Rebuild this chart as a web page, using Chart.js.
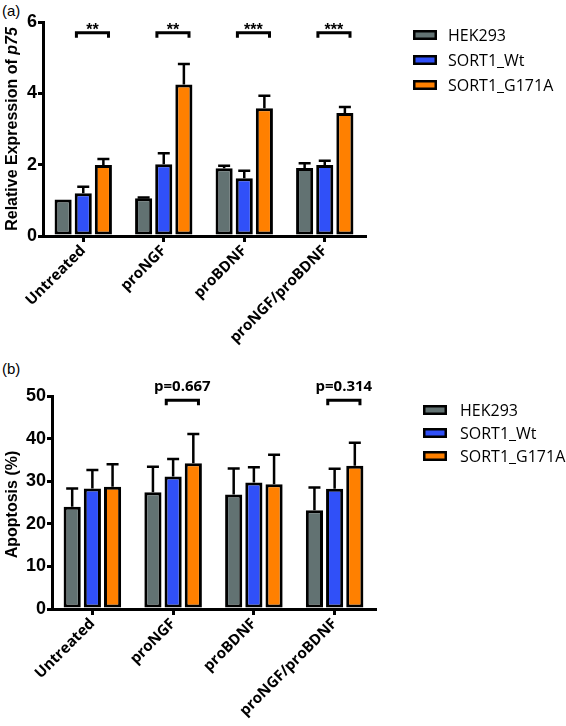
<!DOCTYPE html>
<html>
<head>
<meta charset="utf-8">
<script src="https://cdn.jsdelivr.net/npm/chart.js@4"></script>
<style>
  body { margin: 0; background: #fff; width: 566px; height: 726px; position: relative; overflow: hidden; }
  .panel { position: absolute; left: 0; }
  .tag { position: absolute; left: 2px; font: 15px "Liberation Sans", Arial, sans-serif; color: #000; }
</style>
</head>
<body>
<div class="tag" style="top:2px">(a)</div>
<div class="tag" style="top:360px">(b)</div>
<canvas id="chartA" class="panel" style="top:0" width="566" height="365"></canvas>
<canvas id="chartB" class="panel" style="top:365px" width="566" height="361"></canvas>
<script>
// ---- data ----
const categories = ['Untreated', 'proNGF', 'proBDNF', 'proNGF/proBDNF'];
const seriesNames = ['HEK293', 'SORT1_Wt', 'SORT1_G171A'];
const seriesColors = ['#627272', '#3050f8', '#ff8000'];

// (a) relative expression of p75
const p75Hek = [1.02, 1.06, 1.90, 1.91];
const p75HekErr = [0, 0.02, 0.07, 0.13];
const p75Wt = [1.20, 2.01, 1.62, 1.99];
const p75WtErr = [0.18, 0.31, 0.21, 0.12];
const p75Mut = [1.99, 4.25, 3.58, 3.45];
const p75MutErr = [0.17, 0.57, 0.35, 0.17];
const p75Sig = ['**', '**', '***', '***'];
const p75SigLevel = [5.7, 5.7, 5.7, 5.7];
const p75Ticks = [0, 2, 4, 6];

// (b) apoptosis (%)
const apopHek = [24.0, 27.4, 26.9, 23.2];
const apopHekErr = [4.3, 6.0, 6.1, 5.3];
const apopWt = [28.3, 31.1, 29.7, 28.2];
const apopWtErr = [4.3, 4.1, 3.6, 4.7];
const apopMut = [28.7, 34.2, 29.3, 33.6];
const apopMutErr = [5.3, 6.9, 6.9, 5.4];
const apopSig = ['', 'p=0.667', '', 'p=0.314'];
const apopSigLevel = [49, 49, 49, 49];
const apopTicks = [0, 10, 20, 30, 40, 50];

// ---- plugins ----
// error bars, upward only
const errorBars = {
    id: 'errorBars',
    afterDatasetsDraw(chart) {
        const ctx = chart.ctx;
        const y = chart.scales.y;
        ctx.save();
        ctx.strokeStyle = '#000';
        ctx.lineWidth = 2.5;
        chart.data.datasets.forEach((ds, i) => {
            chart.getDatasetMeta(i).data.forEach((bar, j) => {
                const err = ds.errors[j];
                if (!err) return;
                const top = y.getPixelForValue(ds.data[j] + err);
                ctx.beginPath();
                ctx.moveTo(bar.x, bar.y);
                ctx.lineTo(bar.x, top);
                ctx.moveTo(bar.x - 6, top);
                ctx.lineTo(bar.x + 6, top);
                ctx.stroke();
            });
        });
        ctx.restore();
    }
};

// significance brackets between SORT1_Wt and SORT1_G171A
const sigBrackets = {
    id: 'sigBrackets',
    afterDatasetsDraw(chart, args, opts) {
        const ctx = chart.ctx;
        const wt = chart.getDatasetMeta(1).data;
        const mut = chart.getDatasetMeta(2).data;
        ctx.save();
        ctx.strokeStyle = '#000';
        ctx.fillStyle = '#000';
        ctx.lineWidth = 3;
        ctx.font = opts.font;
        ctx.textAlign = 'center';
        ctx.textBaseline = 'alphabetic';
        opts.labels.forEach((txt, i) => {
            if (!txt) return;
            const w = wt[i].width;
            const left = wt[i].x - 0.4 * w;
            const right = mut[i].x + 0.3 * w;
            const yy = chart.scales.y.getPixelForValue(opts.levels[i]);
            ctx.beginPath();
            ctx.moveTo(left, yy + 5);
            ctx.lineTo(left, yy);
            ctx.lineTo(right, yy);
            ctx.lineTo(right, yy + 5);
            ctx.stroke();
            ctx.fillText(txt, (left + right) / 2, yy + opts.textOffset);
        });
        ctx.restore();
    }
};

// legend on the right
const sideLegend = {
    id: 'sideLegend',
    afterDraw(chart, args, opts) {
        const ctx = chart.ctx;
        const area = chart.chartArea;
        ctx.save();
        ctx.font = '16px "Open Sans", sans-serif';
        ctx.textBaseline = 'middle';
        chart.data.datasets.forEach((ds, i) => {
            const bx = area.right + opts.dx;
            const cy = area.top + opts.first + i * opts.spacing;
            ctx.fillStyle = ds.backgroundColor;
            ctx.fillRect(bx, cy - 5, 24, 10);
            ctx.strokeStyle = '#000';
            ctx.lineWidth = 2.5;
            ctx.strokeRect(bx + 1.25, cy - 3.75, 21.5, 7.5);
            ctx.fillStyle = '#000';
            ctx.fillText(ds.label, bx + opts.textGap, cy + 1);
        });
        ctx.restore();
    }
};

// y axis title, parts may be italic
const yTitle = {
    id: 'yTitle',
    afterDraw(chart, args, opts) {
        const ctx = chart.ctx;
        const area = chart.chartArea;
        ctx.save();
        ctx.translate(opts.x, (area.top + area.bottom) / 2 + (opts.shift || 0));
        ctx.rotate(-Math.PI / 2);
        ctx.fillStyle = '#000';
        ctx.textBaseline = 'middle';
        const fontOf = p => (p.italic ? 'italic ' : '') + 'bold 16px "Liberation Sans", Arial, sans-serif';
        let total = 0;
        opts.parts.forEach(p => { ctx.font = fontOf(p); total += ctx.measureText(p.text).width; });
        let x = -total / 2;
        opts.parts.forEach(p => {
            ctx.font = fontOf(p);
            ctx.fillText(p.text, x, 0);
            x += ctx.measureText(p.text).width;
        });
        ctx.restore();
    }
};

function makeChart(id, cfg) {
    return new Chart(document.getElementById(id), {
        type: 'bar',
        data: {
            labels: categories,
            datasets: seriesNames.map((name, i) => ({
                label: name,
                data: cfg.values[i],
                errors: cfg.errors[i],
                backgroundColor: seriesColors[i],
                borderColor: '#000',
                borderWidth: 3,
                borderSkipped: false,
                barPercentage: 0.85,
                categoryPercentage: 0.75
            }))
        },
        options: {
            responsive: false,
            animation: false,
            layout: { padding: cfg.padding },
            plugins: {
                legend: { display: false },
                tooltip: { enabled: false },
                sigBrackets: cfg.sig,
                sideLegend: cfg.legend,
                yTitle: cfg.title
            },
            scales: {
                x: {
                    offset: true,
                    grid: { drawOnChartArea: false, offset: false, tickLength: 6, lineWidth: 3, color: '#000' },
                    border: { color: '#000', width: 3 },
                    ticks: {
                        color: '#000', autoSkip: false, minRotation: 45, maxRotation: 45, padding: 0,
                        font: { family: '"Open Sans", sans-serif', size: 15, weight: 'bold' }
                    },
                    afterFit: s => { s.height = cfg.xHeight; }
                },
                y: {
                    min: 0,
                    max: cfg.ticks[cfg.ticks.length - 1],
                    grid: { drawOnChartArea: false, tickLength: 5, lineWidth: 3, color: '#000' },
                    border: { color: '#000', width: 3 },
                    afterBuildTicks: s => { s.ticks = cfg.ticks.map(v => ({ value: v })); },
                    ticks: {
                        color: '#000', padding: 1,
                        font: { family: '"Liberation Sans", Arial, sans-serif', size: 18, weight: 'bold' }
                    },
                    afterFit: s => { s.width = cfg.yWidth; }
                }
            }
        },
        plugins: [errorBars, sigBrackets, sideLegend, yTitle]
    });
}

makeChart('chartA', {
    values: [p75Hek, p75Wt, p75Mut],
    errors: [p75HekErr, p75WtErr, p75MutErr],
    ticks: p75Ticks,
    padding: { top: 22, right: 201, left: 0, bottom: 0 },
    xHeight: 129,
    yWidth: 43,
    sig: { labels: p75Sig, levels: p75SigLevel, font: 'bold 16px "Liberation Sans", Arial, sans-serif', textOffset: 2.5 },
    legend: { dx: 48, first: 13, spacing: 25, textGap: 35 },
    title: { x: 13, parts: [{ text: 'Relative Expression of ' }, { text: 'p75', italic: true }] }
});

makeChart('chartB', {
    values: [apopHek, apopWt, apopMut],
    errors: [apopHekErr, apopWtErr, apopMutErr],
    ticks: apopTicks,
    padding: { top: 31, right: 191, left: 0, bottom: 0 },
    xHeight: 117,
    yWidth: 52,
    sig: { labels: apopSig, levels: apopSigLevel, font: 'bold 15px "Open Sans", sans-serif', textOffset: -9 },
    legend: { dx: 48, first: 14, spacing: 23, textGap: 37 },
    title: { x: 13, shift: 2, parts: [{ text: 'Apoptosis (%)' }] }
});
</script>
</body>
</html>
